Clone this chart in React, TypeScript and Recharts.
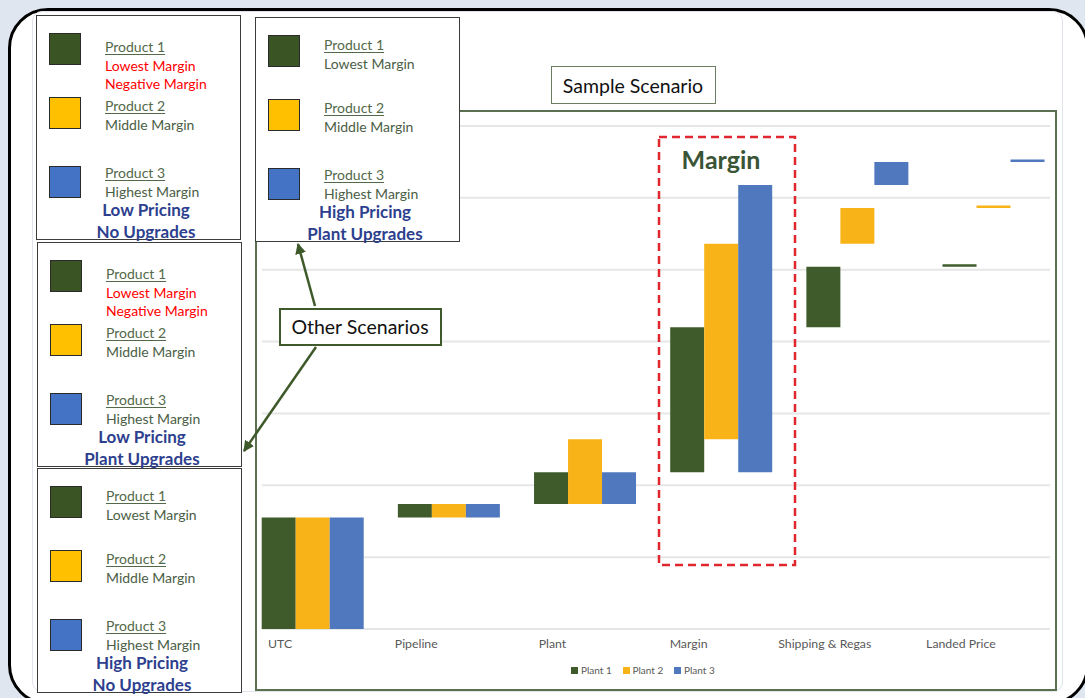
import React from "react";
import { BarChart, Bar, XAxis, YAxis, CartesianGrid, Legend } from "recharts";

// waterfall steps per plant, one entry per category
const categories = ["UTC", "Pipeline", "Plant", "Margin", "Shipping & Regas", "Landed Price"];
const plant1Steps = [15.5, 1.9, 4.4, 20.2, 8.4, 0.35];
const plant2Steps = [15.5, 1.9, 9.0, 27.2, 5.0, 0.35];
const plant3Steps = [15.5, 1.9, 4.4, 40.0, 3.2, 0.35];
const gridTicks = [0, 10, 20, 30, 40, 50, 60, 70];

const plants = [
  { key: "p1", name: "Plant 1", color: "#3f5b2b", steps: plant1Steps },
  { key: "p2", name: "Plant 2", color: "#f8b319", steps: plant2Steps },
  { key: "p3", name: "Plant 3", color: "#5078be", steps: plant3Steps },
];

const rows = categories.map((name, i) => {
  const row: Record<string, any> = { name };
  plants.forEach((p) => {
    row[`${p.key}Base`] = p.steps.slice(0, i).reduce((a, b) => a + b, 0);
    row[p.key] = p.steps[i];
  });
  return row;
});

const scenarioBoxes = [
  { left: 36, top: 15, pricing: "Low Pricing", upgrades: "No Upgrades", negative: true, shift: 8 },
  { left: 255, top: 17, pricing: "High Pricing", upgrades: "Plant Upgrades", negative: false, shift: 8 },
  { left: 37, top: 242, pricing: "Low Pricing", upgrades: "Plant Upgrades", negative: true, shift: 3 },
  { left: 37, top: 468, pricing: "High Pricing", upgrades: "No Upgrades", negative: false, shift: 3 },
];

const FONT = "Lato, 'Noto Sans', sans-serif";
const GREEN_TXT = "#52694a";
const NOTE_TXT = "#4b5e46";
const NAVY = "#2d3f8e";

const Txt = ({ x, cy, size, color, bold, underline, center, children }: any) => {
  const lh = Math.round(size * 1.25);
  return (
    <div
      style={{
        position: "absolute",
        left: center ? x - 120 : x,
        width: center ? 240 : undefined,
        top: cy - lh / 2,
        lineHeight: `${lh}px`,
        fontSize: size,
        fontWeight: bold ? 700 : 400,
        color,
        textAlign: center ? "center" : "left",
        textDecoration: underline ? "underline" : "none",
        textUnderlineOffset: 2,
        whiteSpace: "nowrap",
      }}
    >
      {children}
    </div>
  );
};

const Swatch = ({ x, y, color }: any) => (
  <div
    style={{
      position: "absolute",
      left: x,
      top: y,
      width: 32,
      height: 32,
      boxSizing: "border-box",
      background: color,
      border: "1px solid #2a2a2a",
    }}
  />
);

const ScenarioBox = ({ left, top, pricing, upgrades, negative, shift }: any) => {
  const tx = 68;
  const noteColor = negative ? "#ff0000" : NOTE_TXT;
  const p1 = negative ? 31 : 27;
  return (
    <div
      style={{
        position: "absolute",
        left,
        top,
        width: 205,
        height: 225,
        boxSizing: "border-box",
        border: "1.5px solid #3c3c3c",
        background: "#fff",
      }}
    >
      <Swatch x={12} y={17} color="#3a5423" />
      <Swatch x={12} y={81} color="#ffc000" />
      <Swatch x={12} y={150} color="#4472c4" />
      <Txt x={tx} cy={p1} size={14} color={GREEN_TXT} underline>Product 1</Txt>
      <Txt x={tx} cy={p1 + 18.5} size={14} color={noteColor}>Lowest Margin</Txt>
      {negative && (
        <Txt x={tx} cy={p1 + 37} size={14} color={noteColor}>Negative Margin</Txt>
      )}
      <Txt x={tx} cy={90} size={14} color={GREEN_TXT} underline>Product 2</Txt>
      <Txt x={tx} cy={109} size={14} color={NOTE_TXT}>Middle Margin</Txt>
      <Txt x={tx} cy={157} size={14} color={GREEN_TXT} underline>Product 3</Txt>
      <Txt x={tx} cy={175.5} size={14} color={NOTE_TXT}>Highest Margin</Txt>
      <Txt x={101 + shift} cy={193.5} size={17} color={NAVY} bold center>{pricing}</Txt>
      <Txt x={101 + shift} cy={215} size={17} color={NAVY} bold center>{upgrades}</Txt>
    </div>
  );
};

const CategoryTick = ({ x, y, payload }: any) => (
  <text
    x={x - 32}
    y={y}
    dy="0.71em"
    textAnchor="middle"
    fill="#595959"
    fontSize={12.3}
    fontFamily={FONT}
  >
    {payload.value}
  </text>
);

const gridLine = (props: any) => (
  <line
    key={`g-${props.index}-${props.y1}`}
    x1={262}
    x2={1050}
    y1={props.y1}
    y2={props.y2}
    stroke="#e6e6e6"
    strokeWidth={2}
  />
);

const PlantLegend = () => (
  <div style={{ display: "flex", fontFamily: FONT, fontSize: 10, color: "#595959" }}>
    {plants.map((p) => (
      <div key={p.key} style={{ width: 51.5, display: "flex", alignItems: "center" }}>
        <span style={{ width: 7, height: 7, background: p.color, marginRight: 3, display: "inline-block" }} />
        <span style={{ lineHeight: "12px" }}>{p.name}</span>
      </div>
    ))}
  </div>
);

export default function App() {
  return (
    <div
      style={{
        position: "absolute",
        left: 0,
        top: 0,
        width: 1085,
        height: 698,
        overflow: "hidden",
        background: "#dfe6ef",
        fontFamily: FONT,
      }}
    >
      <div
        style={{
          position: "absolute",
          left: 8,
          top: 8,
          width: 1081,
          height: 697,
          boxSizing: "border-box",
          border: "3px solid #000",
          borderRadius: 40,
          background: "#fff",
        }}
      />
      <div
        style={{
          position: "absolute",
          left: 32,
          top: 11,
          width: 1031,
          height: 681,
          boxSizing: "border-box",
          border: "1px solid #dfe4ec",
          borderRadius: 10,
          background: "#fff",
        }}
      />
      {/* plot frame */}
      <div
        style={{
          position: "absolute",
          left: 255,
          top: 110,
          width: 802,
          height: 581,
          boxSizing: "border-box",
          border: "2px solid #5a7050",
        }}
      />
      <div style={{ position: "absolute", left: 0, top: 0 }}>
        <BarChart
          width={1085}
          height={698}
          data={rows}
          margin={{ top: 126, right: 24, left: 244, bottom: 39 }}
          barCategoryGap="13%"
          barGap={0}
        >
          <CartesianGrid vertical={false} horizontal={gridLine} />
          <YAxis hide domain={[0, 70]} ticks={gridTicks} />
          <XAxis
            dataKey="name"
            height={30}
            axisLine={false}
            tickLine={false}
            tickSize={0}
            tickMargin={10}
            tick={<CategoryTick />}
            interval={0}
          />
          {plants.map((p) => [
            <Bar
              key={`${p.key}Base`}
              dataKey={`${p.key}Base`}
              stackId={p.key}
              fill="transparent"
              isAnimationActive={false}
              legendType="none"
            />,
            <Bar
              key={p.key}
              dataKey={p.key}
              name={p.name}
              stackId={p.key}
              fill={p.color}
              isAnimationActive={false}
            />,
          ])}
          <Legend
            layout="horizontal"
            verticalAlign="middle"
            align="center"
            wrapperStyle={{ left: 571, top: 664, width: 170, height: 12 }}
            content={() => <PlantLegend />}
          />
        </BarChart>
      </div>

      {/* highlighted margin step */}
      <svg
        width={1085}
        height={698}
        style={{ position: "absolute", left: 0, top: 0, pointerEvents: "none" }}
      >
        <rect
          x={659}
          y={137}
          width={136}
          height={428}
          fill="none"
          stroke="#e0262f"
          strokeWidth={2.5}
          strokeDasharray="8 5"
        />
      </svg>
      <Txt x={721} cy={159} size={25} color="#3a5535" bold center>Margin</Txt>

      <div
        style={{
          position: "absolute",
          left: 551,
          top: 66,
          width: 165,
          height: 38,
          boxSizing: "border-box",
          border: "1.5px solid #6b7d60",
          background: "#fff",
        }}
      />
      <Txt x={633} cy={86} size={19.5} color="#111" center>Sample Scenario</Txt>

      {scenarioBoxes.map((b, i) => (
        <ScenarioBox key={i} {...b} />
      ))}

      <div
        style={{
          position: "absolute",
          left: 279,
          top: 308,
          width: 163,
          height: 38,
          boxSizing: "border-box",
          border: "2.5px solid #3f5a2a",
          background: "#fff",
        }}
      />
      <Txt x={360} cy={327} size={19.5} color="#111" center>Other Scenarios</Txt>

      <svg
        width={1085}
        height={698}
        style={{ position: "absolute", left: 0, top: 0, pointerEvents: "none" }}
      >
        <defs>
          <marker
            id="head"
            viewBox="0 0 10 10"
            refX="9"
            refY="5"
            markerWidth="11"
            markerHeight="11"
            markerUnits="userSpaceOnUse"
            orient="auto"
          >
            <path d="M0,0 L10,5 L0,10 z" fill="#3f5a2a" />
          </marker>
        </defs>
        <line x1={315} y1={306} x2={298} y2={244} stroke="#3f5a2a" strokeWidth={2.5} markerEnd="url(#head)" />
        <line x1={316} y1={347} x2={244} y2={451} stroke="#3f5a2a" strokeWidth={2.5} markerEnd="url(#head)" />
      </svg>
    </div>
  );
}
